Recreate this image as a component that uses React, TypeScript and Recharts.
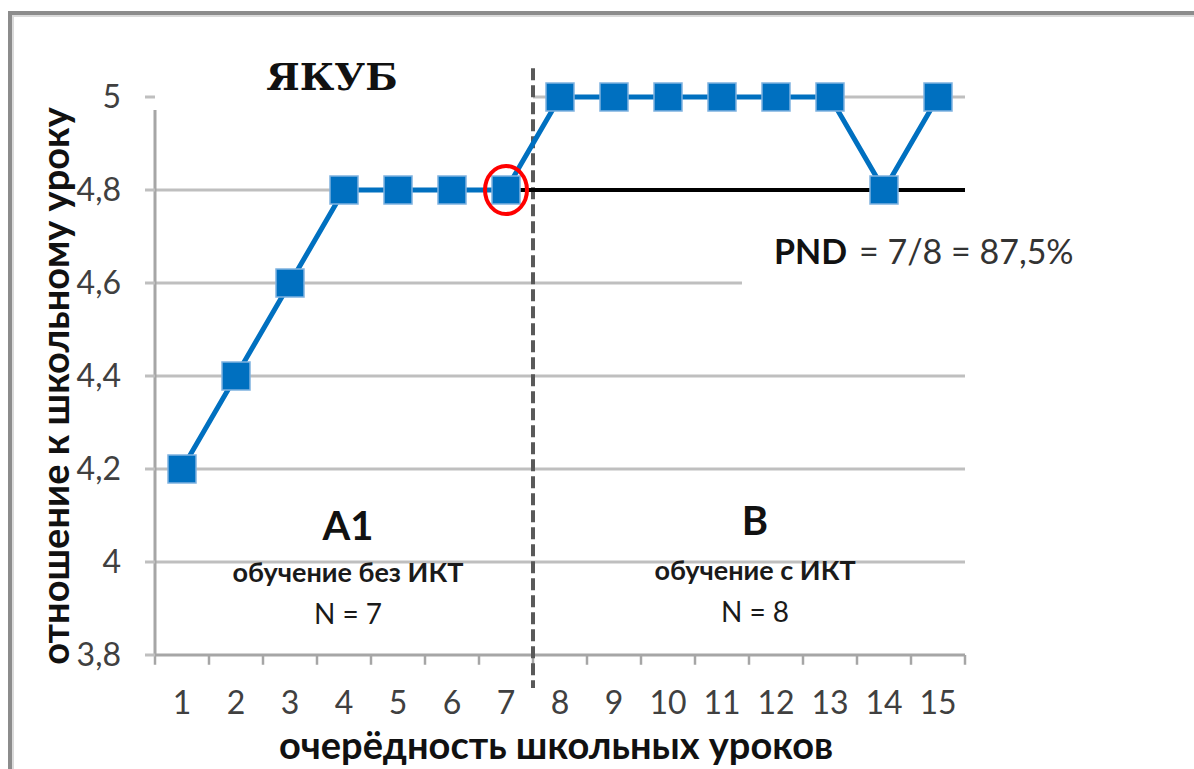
import React from 'react'
import {
  LineChart,
  Line,
  XAxis,
  YAxis,
  ReferenceLine,
  ReferenceDot,
} from 'recharts'

// lesson order and the score for each lesson
const lessons = [1, 2, 3, 4, 5, 6, 7, 8, 9, 10, 11, 12, 13, 14, 15]
const scores = [4.2, 4.4, 4.6, 4.8, 4.8, 4.8, 4.8, 5, 5, 5, 5, 5, 5, 4.8, 5]
const yTicks = [3.8, 4, 4.2, 4.4, 4.6, 4.8, 5]
const boundaries = [0.5, 1.5, 2.5, 3.5, 4.5, 5.5, 6.5, 7.5, 8.5, 9.5, 10.5, 11.5, 12.5, 13.5, 14.5, 15.5]

// gridline spans (parts of the grid are hidden behind text boxes in the original)
const gridSpans: { y: number; from: number; to: number }[] = [
  { y: 4, from: 0.5, to: 15.5 },
  { y: 4.2, from: 0.5, to: 15.5 },
  { y: 4.4, from: 0.5, to: 15.5 },
  { y: 4.6, from: 0.5, to: 11.37 },
  { y: 4.8, from: 0.5, to: 7 },
  { y: 5, from: 7.5, to: 15.5 },
]

const data = lessons.map((lesson, i) => ({ lesson, score: scores[i] }))

const BLUE = '#0070C0'
const GRID = '#BFBFBF'
const AXIS = '#A6A6A6'
const SANS = 'Lato, "Open Sans", sans-serif'

const fmt = (v: number) => String(v).replace('.', ',')

// square marker like the excel one
const SquareDot = (props: any) => {
  const { cx, cy } = props
  if (cx == null || cy == null) return null
  const s = 28
  return (
    <rect
      x={cx - s / 2}
      y={cy - s / 2}
      width={s}
      height={s}
      fill={BLUE}
      stroke="#7FB2E0"
      strokeWidth={1.5}
    />
  )
}

export default function App() {
  return (
    <div style={{ position: 'absolute', left: 0, top: 0, width: 1194, height: 769, background: '#fff', overflow: 'hidden' }}>
      {/* outer chart frame */}
      <div style={{
        position: 'absolute', left: 8, top: 11, width: 1300, height: 900,
        borderLeft: '4px solid #8C8C8C', borderTop: '4px solid #8C8C8C',
        boxShadow: 'inset 2px 2px 0 #DADADA',
      }} />
      <LineChart
        width={1194}
        height={769}
        data={data}
        margin={{ top: 97, right: 229, bottom: 0, left: 0 }}
        style={{ position: 'absolute', left: 0, top: 0 }}
      >
        <XAxis
          dataKey="lesson"
          type="number"
          domain={[0.5, 15.5]}
          ticks={lessons}
          interval={0}
          height={114}
          axisLine={false}
          tickLine={false}
          tickSize={0}
          tickMargin={36}
          tick={{ fill: '#404040', fontSize: 32, fontFamily: SANS }}
        />
        <YAxis
          type="number"
          domain={[3.8, 5]}
          ticks={yTicks}
          interval={0}
          width={155}
          axisLine={false}
          tickLine={{ stroke: GRID, strokeWidth: 3 }}
          tickSize={10}
          tickMargin={24}
          tickFormatter={fmt}
          tick={{ fill: '#404040', fontSize: 32, fontFamily: SANS }}
        />

        {gridSpans.map((g) => (
          <ReferenceLine
            key={`grid-${g.y}`}
            segment={[{ x: g.from, y: g.y }, { x: g.to, y: g.y }]}
            stroke={GRID}
            strokeWidth={3}
          />
        ))}

        {/* axis lines */}
        <ReferenceLine segment={[{ x: 0.5, y: 3.8 }, { x: 15.5, y: 3.8 }]} stroke={AXIS} strokeWidth={3} />
        <ReferenceLine segment={[{ x: 0.5, y: 3.8 }, { x: 0.5, y: 4.972 }]} stroke={AXIS} strokeWidth={3} ifOverflow="visible" />
        {boundaries.map((b) => (
          <ReferenceLine
            key={`tick-${b}`}
            segment={[{ x: b, y: 3.8 }, { x: b, y: 3.779 }]}
            stroke={AXIS}
            strokeWidth={2.5}
            ifOverflow="visible"
          />
        ))}

        {/* phase change line */}
        <ReferenceLine
          segment={[{ x: 7.5, y: 5.062 }, { x: 7.5, y: 3.729 }]}
          stroke="#595959"
          strokeWidth={4}
          strokeDasharray="12 5"
          ifOverflow="visible"
        />

        <Line
          dataKey="score"
          stroke={BLUE}
          strokeWidth={5}
          dot={<SquareDot />}
          activeDot={false}
          isAnimationActive={false}
        />

        {/* PND level line */}
        <ReferenceLine segment={[{ x: 7.05, y: 4.8 }, { x: 15.5, y: 4.8 }]} stroke="#000" strokeWidth={4} />

        <ReferenceDot
          x={7}
          y={4.8}
          r={22}
          shape={(p: any) => (
            <ellipse cx={p.cx} cy={p.cy} rx={21} ry={24} fill="none" stroke="#FF0000" strokeWidth={4} />
          )}
        />
      </LineChart>

      {/* titles and annotations */}
      <svg width={1194} height={769} style={{ position: 'absolute', left: 0, top: 0, pointerEvents: 'none' }}>
        <text x={332} y={90} textAnchor="middle" fontFamily='"DejaVu Serif", serif' fontWeight={700} fontSize={38} fill="#111">ЯКУБ</text>

        <text x={556} y={759} textAnchor="middle" fontFamily={SANS} fontWeight={700} fontSize={38} fill="#111">очерёдность школьных уроков</text>
        <text
          x={0}
          y={0}
          transform="translate(54,386) rotate(-90)"
          textAnchor="middle"
          dominantBaseline="central"
          fontFamily={SANS}
          fontWeight={700}
          fontSize={38}
          fill="#111"
        >
          отношение к школьному уроку
        </text>

        <text x={774} y={264} fontFamily={SANS} fontSize={34} fill="#333">
          <tspan fontWeight={700} fill="#111">PND</tspan>
          <tspan dx={12}>= 7/8 = 87,5%</tspan>
        </text>

        <text x={348} y={540} textAnchor="middle" fontFamily={SANS} fontWeight={700} fontSize={40} fill="#111">A1</text>
        <text x={348} y={582} textAnchor="middle" fontFamily={SANS} fontWeight={700} fontSize={27} fill="#1a1a1a">обучение без ИКТ</text>
        <text x={348} y={624} textAnchor="middle" fontFamily={SANS} fontSize={28} fill="#1a1a1a">N = 7</text>

        <text x={755} y={535} textAnchor="middle" fontFamily={SANS} fontWeight={700} fontSize={40} fill="#111">B</text>
        <text x={755} y={580} textAnchor="middle" fontFamily={SANS} fontWeight={700} fontSize={27} fill="#1a1a1a">обучение с ИКТ</text>
        <text x={755} y={622} textAnchor="middle" fontFamily={SANS} fontSize={28} fill="#1a1a1a">N = 8</text>
      </svg>
    </div>
  )
}
